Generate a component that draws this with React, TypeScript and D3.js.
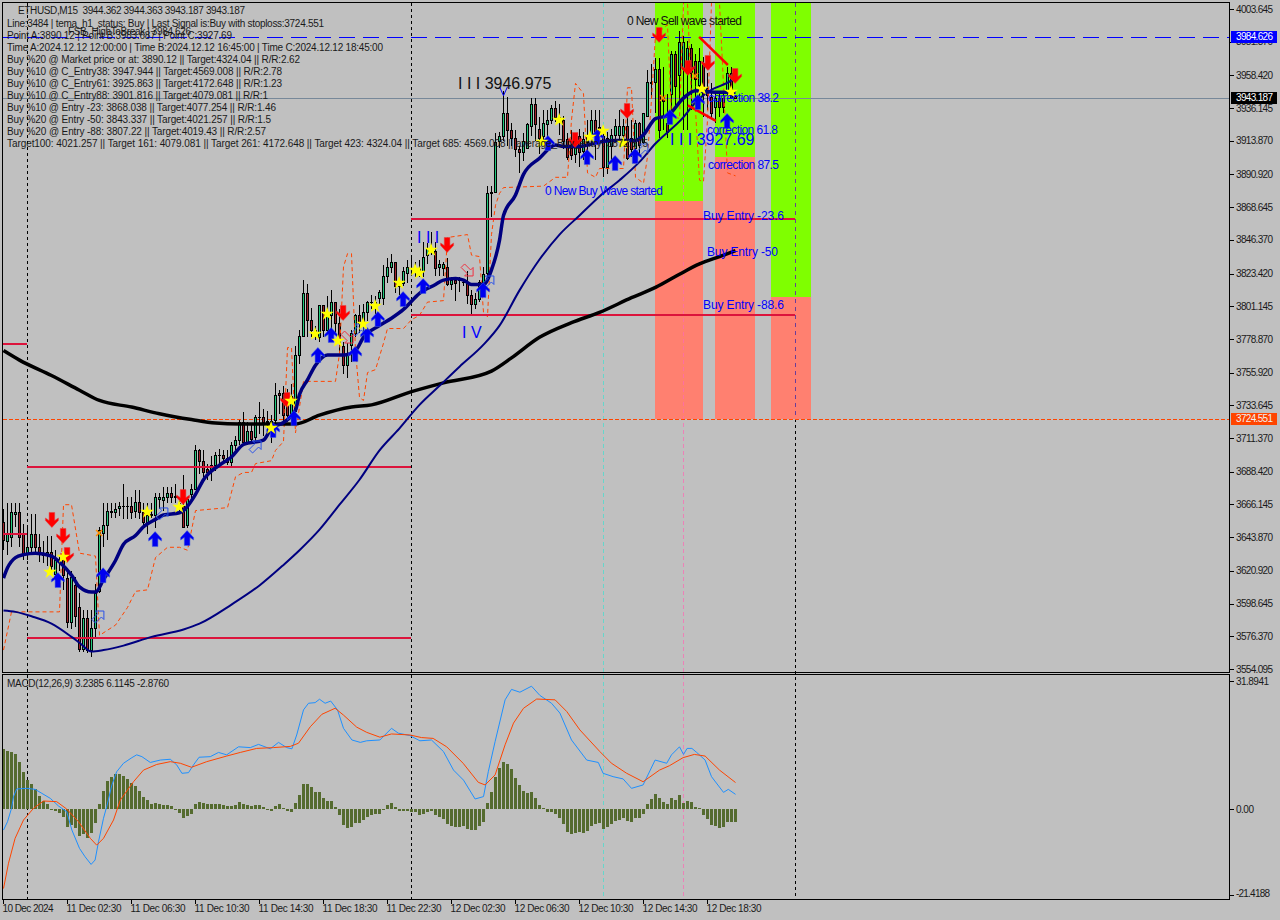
import { curveLinear, curveMonotoneX, line, scaleLinear, symbol, symbolStar } from 'd3'

const WIDTH = 1280
const HEIGHT = 920
const FONT = '"Liberation Sans", Arial, sans-serif'

// chart frame
const LEFT = 2.5
const RIGHT = 1229.5
const TOP = 2.5
const MAIN_BOTTOM = 672.5
const SUB_TOP = 674.5
const SUB_BOTTOM = 899.5

const priceTicks = [4003.645, 3981.37, 3958.42, 3936.145, 3913.87, 3890.92, 3868.645, 3846.37, 3823.42, 3801.145, 3778.87, 3755.92, 3733.645, 3711.37, 3688.42, 3666.145, 3643.87, 3620.92, 3598.645, 3576.37, 3554.095]
const macdTicks = [31.8941, 0, -21.4188]
const timeLabels = ['10 Dec 2024', '11 Dec 02:30', '11 Dec 06:30', '11 Dec 10:30', '11 Dec 14:30', '11 Dec 18:30', '11 Dec 22:30', '12 Dec 02:30', '12 Dec 06:30', '12 Dec 10:30', '12 Dec 14:30', '12 Dec 18:30']

const barOpen = [
  3654, 3641, 3644, 3660, 3661, 3646, 3633, 3637, 3646, 3637,
  3633, 3632, 3634, 3619, 3628, 3630, 3616, 3586, 3611, 3596,
  3568, 3589, 3567, 3582, 3607, 3647, 3652, 3661, 3661, 3664,
  3665, 3665, 3665, 3662, 3668, 3661, 3654, 3660, 3659, 3670,
  3669, 3671, 3674, 3672, 3667, 3665, 3652, 3673, 3677, 3703,
  3696, 3690, 3689, 3693, 3700, 3700, 3698, 3695, 3707, 3710,
  3722, 3709, 3716, 3712, 3726, 3726, 3723, 3720, 3724, 3742,
  3742, 3741, 3727, 3730, 3768, 3781, 3810, 3792, 3785, 3780,
  3802, 3785, 3795, 3804, 3790, 3774, 3761, 3775, 3783, 3795,
  3791, 3797, 3804, 3804, 3807, 3807, 3822, 3828, 3831, 3815,
  3817, 3824, 3827, 3827, 3825, 3825, 3836, 3839, 3839, 3828,
  3827, 3828, 3816, 3819, 3819, 3818, 3818, 3809, 3803, 3806,
  3818, 3824, 3878, 3879, 3914, 3917, 3933, 3921, 3916, 3908,
  3906, 3909, 3924, 3939, 3922, 3917, 3925, 3928, 3936, 3930,
  3928, 3915, 3909, 3905, 3917, 3907, 3913, 3918, 3928, 3923,
  3917, 3896, 3910, 3918, 3918, 3918, 3924, 3916, 3909, 3926,
  3913, 3931, 3954, 3954, 3963, 3944, 3926, 3946, 3973, 3959,
  3963, 3960, 3977, 3968, 3952, 3967, 3950, 3944, 3937, 3943,
  3943, 3947, 3960, 3944.362,
]
const barHigh = [
  3663, 3667, 3667, 3667, 3667, 3653, 3651, 3660, 3660, 3646,
  3641, 3645, 3645, 3635, 3632, 3633, 3621, 3621, 3617, 3606,
  3594, 3594, 3594, 3612, 3651, 3667, 3667, 3667, 3667, 3668,
  3680, 3671, 3671, 3676, 3676, 3667, 3667, 3667, 3674, 3674,
  3678, 3678, 3678, 3680, 3669, 3686, 3670, 3680, 3707, 3704,
  3703, 3694, 3699, 3702, 3704, 3703, 3703, 3709, 3713, 3724,
  3729, 3722, 3720, 3727, 3736, 3731, 3730, 3727, 3749, 3744,
  3747, 3745, 3748, 3774, 3785, 3819, 3816, 3800, 3788, 3802,
  3802, 3808, 3812, 3804, 3799, 3777, 3776, 3785, 3796, 3802,
  3803, 3805, 3809, 3808, 3812, 3829, 3834, 3837, 3831, 3819,
  3828, 3833, 3834, 3831, 3833, 3845, 3844, 3852, 3845, 3833,
  3831, 3834, 3821, 3821, 3821, 3820, 3825, 3812, 3810, 3819,
  3828, 3883, 3883, 3919, 3920, 3948, 3944, 3926, 3921, 3910,
  3919, 3926, 3943, 3943, 3930, 3935, 3935, 3938, 3941, 3939,
  3931, 3919, 3921, 3918, 3922, 3920, 3928, 3935, 3935, 3935,
  3923, 3920, 3922, 3929, 3935, 3929, 3937, 3928, 3928, 3927,
  3933, 3962, 3966, 3970, 3970, 3964, 3946, 3975, 3975, 3989,
  3985, 3982, 3980, 3973, 3977, 3971, 3960, 3953, 3947, 3946,
  3946, 3964, 3964, 3944.363,
]
const barLow = [
  3635, 3632, 3637, 3651, 3637, 3628, 3628, 3632, 3633, 3627,
  3626, 3624, 3619, 3615, 3621, 3608, 3582, 3581, 3583, 3566,
  3566, 3565, 3562, 3576, 3606, 3637, 3642, 3657, 3657, 3658,
  3656, 3656, 3656, 3657, 3656, 3650, 3646, 3657, 3650, 3663,
  3662, 3667, 3667, 3667, 3661, 3650, 3650, 3669, 3676, 3687,
  3685, 3683, 3682, 3689, 3694, 3694, 3693, 3692, 3703, 3707,
  3709, 3707, 3708, 3709, 3714, 3713, 3715, 3708, 3720, 3728,
  3722, 3722, 3720, 3725, 3762, 3781, 3780, 3780, 3778, 3777,
  3780, 3783, 3785, 3783, 3769, 3755, 3752, 3763, 3780, 3783,
  3783, 3791, 3799, 3796, 3802, 3802, 3817, 3824, 3810, 3809,
  3815, 3817, 3822, 3821, 3821, 3821, 3830, 3836, 3822, 3822,
  3822, 3815, 3812, 3805, 3811, 3815, 3803, 3796, 3799, 3804,
  3817, 3821, 3862, 3878, 3909, 3914, 3910, 3910, 3903, 3892,
  3900, 3908, 3917, 3914, 3905, 3910, 3916, 3925, 3927, 3918,
  3908, 3901, 3901, 3899, 3896, 3901, 3905, 3912, 3901, 3917,
  3889, 3891, 3901, 3914, 3913, 3910, 3901, 3903, 3901, 3905,
  3912, 3930, 3943, 3933, 3916, 3921, 3916, 3933, 3935, 3939,
  3921, 3921, 3935, 3942, 3939, 3930, 3935, 3929, 3926, 3930,
  3933, 3944, 3943, 3943.187,
]
const barClose = [
  3642, 3646, 3661, 3661, 3644, 3633, 3637, 3646, 3637, 3633,
  3632, 3634, 3624, 3628, 3629, 3618, 3586, 3617, 3590, 3568,
  3589, 3567, 3582, 3606, 3649, 3652, 3662, 3662, 3663, 3665,
  3665, 3665, 3661, 3668, 3661, 3654, 3659, 3659, 3671, 3671,
  3671, 3674, 3671, 3671, 3667, 3651, 3670, 3677, 3703, 3696,
  3688, 3688, 3693, 3700, 3700, 3698, 3695, 3707, 3710, 3722,
  3709, 3716, 3711, 3726, 3726, 3722, 3722, 3723, 3741, 3741,
  3727, 3727, 3740, 3768, 3781, 3810, 3792, 3785, 3783, 3802,
  3785, 3795, 3804, 3790, 3776, 3761, 3769, 3783, 3795, 3790,
  3797, 3804, 3804, 3802, 3811, 3822, 3828, 3831, 3815, 3817,
  3825, 3828, 3827, 3825, 3827, 3835, 3841, 3838, 3827, 3830,
  3830, 3816, 3819, 3817, 3819, 3818, 3809, 3803, 3806, 3818,
  3823, 3878, 3879, 3913, 3917, 3933, 3921, 3916, 3908, 3906,
  3914, 3925, 3939, 3925, 3916, 3926, 3928, 3936, 3930, 3928,
  3914, 3903, 3904, 3911, 3906, 3915, 3917, 3928, 3917, 3919,
  3896, 3916, 3918, 3924, 3924, 3924, 3902, 3908, 3926, 3911,
  3933, 3954, 3953, 3963, 3921, 3941, 3920, 3973, 3951, 3981,
  3981, 3977, 3960, 3956, 3968, 3946, 3945, 3933, 3943, 3937,
  3937, 3960, 3944, 3943.187,
]

// moving averages, read at the bars where they bend
const fastIdx = [0, 1, 3, 5, 8, 12, 14, 17, 19, 22, 23, 25, 28, 30, 33, 35, 38, 40, 44, 45, 48, 50, 54, 57, 60, 65, 67, 70, 73, 74, 76, 78, 81, 85, 88, 90, 94, 97, 100, 104, 108, 110, 113, 115, 117, 120, 122, 124, 125, 128, 130, 134, 138, 140, 144, 149, 153, 158, 160, 163, 166, 170, 173, 178, 183]
const fastVal = [3616, 3623, 3630, 3632, 3633, 3631, 3627, 3618, 3610, 3606.5, 3606.5, 3615, 3628, 3639, 3645, 3651, 3656, 3659, 3660.5, 3662, 3673, 3683, 3693, 3698.5, 3707, 3710, 3718, 3722, 3730.5, 3741, 3751, 3761, 3768, 3768, 3771, 3780, 3788, 3793, 3799, 3810, 3816, 3819, 3820, 3819, 3816, 3816, 3826, 3846, 3863, 3877, 3891, 3902, 3911, 3910, 3910, 3913, 3914, 3914, 3918, 3929, 3931, 3943, 3948, 3947, 3947]
const slowIdx = [0, 3, 7, 12, 17, 19, 22, 25, 30, 37, 45, 49, 57, 64, 70, 74, 79, 84, 89, 94, 99, 104, 109, 114, 120, 124, 129, 134, 139, 144, 149, 154, 159, 163, 170, 173, 176, 182, 183]
const slowVal = [3594, 3593, 3590, 3585, 3576, 3572, 3566, 3567, 3570, 3576, 3581, 3585, 3598, 3611, 3625, 3635, 3649, 3666, 3683, 3703, 3718, 3734, 3747, 3760, 3775, 3788, 3812, 3833, 3850, 3863, 3876, 3887, 3899.5, 3912, 3930, 3940, 3947, 3955, 3957]
const longIdx = [0, 4, 12, 19, 24, 32, 39, 47, 53, 59, 73, 79, 87, 92, 102, 110, 122, 127, 134, 142, 149, 157, 163, 169, 174, 179, 183]
const longVal = [3771, 3764.5, 3754, 3744, 3737, 3732.5, 3728, 3724, 3721.6, 3721, 3721, 3727, 3732.5, 3734, 3743, 3749, 3757, 3766, 3780, 3790, 3797, 3807, 3814, 3823, 3830, 3835, 3839]

// dashed stair line
const stopIdx = [0, 2, 14, 15, 17, 19, 23, 24, 28, 31, 33, 36, 38, 41, 44, 46, 48, 56, 58, 60, 62, 63, 67, 68, 70, 71, 72, 73, 75, 83, 84, 85, 86, 87, 88, 89, 90, 91, 93, 95, 96, 100, 102, 104, 106, 110, 111, 116, 117, 119, 120, 121, 122, 123, 124, 125, 135, 138, 141, 142, 143, 145, 146, 148, 149, 155, 156, 157, 158, 160, 161, 162, 163, 166, 167, 169, 170, 171, 172, 173, 174, 175, 176, 177, 179, 180, 181, 183]
const stopVal = [3567, 3593, 3593, 3666, 3666, 3633, 3631, 3577, 3584, 3596, 3607, 3608, 3630, 3637, 3637, 3635, 3662, 3664, 3685, 3688, 3688, 3694, 3696, 3703, 3709, 3773, 3773, 3715, 3750, 3750, 3769, 3828, 3837, 3837, 3771, 3739, 3737, 3756, 3758, 3776, 3786, 3786, 3792, 3795, 3804, 3805, 3848, 3850, 3836, 3835, 3797, 3794, 3850, 3870, 3878, 3882, 3883, 3889, 3889, 3928, 3953, 3946, 3892, 3889, 3895, 3895, 3950, 3950, 3889, 3885, 3903, 3942, 3986, 3993, 3931, 3929, 4008, 4008, 3942, 3935, 3887, 3886, 3928, 4008, 4008, 3952, 3892, 3890]

// horizontal levels [from bar, to bar, price]
const crimsonFrom = [-0.25, -0.25, 5.875, 5.875, 101.875, 101.875]
const crimsonTo = [5.875, 5.875, 101.875, 101.875, 197.875, 197.875]
const crimsonVal = [3775.5, 3646, 3691.7, 3575.2, 3860.6, 3795.2]

const stopLossPrice = 3724.551
const breakPrice = 3984.626
const lastPrice = 3943.187

// target zones
const zoneFrom = [162.875, 177.875, 191.875]
const zoneTo = [174.875, 187.875, 201.875]
const zoneSplit = [3872.9, 3902.9, 3807.5]

const upIdx = [13.6, 24.9, 37.9, 45.9, 67.4, 72.6, 78.6, 81.9, 87.9, 90.9, 93.6, 99.9, 104.9, 119.9, 136.1, 145.9, 148.4, 152.9, 157.9, 166.6, 173.6, 180.9]
const upVal = [3614.7, 3618, 3642.6, 3643.3, 3716.9, 3725, 3768, 3781.6, 3768.6, 3781.6, 3792.5, 3806.1, 3815, 3812.2, 3912.4, 3902.8, 3916.5, 3898.8, 3903.5, 3930.1, 3940.3, 3927.4]
const downIdx = [12.1, 14.9, 15.9, 44.9, 70.9, 84.9, 110.9, 142.9, 155.9, 163.9, 171.1, 176.1, 182.9]
const downVal = [3655.6, 3644.7, 3631.7, 3671.2, 3737.3, 3796.6, 3842.9, 3914.4, 3934.2, 3986, 3963.5, 3966.9, 3958]
const starIdx = [11.6, 14.9, 35.9, 43.9, 66.9, 71.9, 77.9, 80.9, 83.6, 89.9, 92.9, 98.9, 102.9, 103.9, 106.9, 134.6, 138.9, 146.6, 149.9, 154.9, 174.6, 181.9]
const starVal = [3620.1, 3630.4, 3661, 3664.4, 3718.2, 3736.6, 3782.3, 3795.9, 3777.5, 3789.1, 3801.3, 3817, 3825.9, 3823.8, 3839.5, 3913.1, 3928, 3916.5, 3920.6, 3912.4, 3949.2, 3947.1]
const crossIdx = [23.9, 164.9, 172.9]
const crossVal = [3646.7, 3943, 3958]
const hollowUpIdx = [23.6, 39.6, 62.9, 88.6, 121.1, 159.6]
const hollowUpVal = [3589.5, 3659.7, 3705.3, 3785, 3817.7, 3907.6]
const hollowDownIdx = [85.9, 115.9]
const hollowDownVal = [3780.2, 3825.9]

// wave triangle
const triangleUpper = [[173.9, 3984.6], [181.1, 3965.5]]
const triangleLower = [[171.1, 3938], [178.1, 3927.4]]

// MACD histogram, one value per bar
const macdHist = [
  15, 14.5, 14.1, 13.8, 11.8, 9.1, 7.2, 6.2, 5, 3.3,
  2, 1.25, -0.25, -0.5, -1, -1.9, -4.5, -4, -4.65, -6.7,
  -6.3, -7.1, -6, -3.4, 1.25, 4.5, 7, 8.1, 8.7, 8.7,
  8.2, 7.5, 6.6, 5.7, 4.5, 3, 2.3, 1.25, 1.4, 1.25,
  1, 1, 0.8, -0.25, -1, -2.25, -1.7, -1.2, 1.25, 1.75,
  1.5, 1.25, 1.25, 1.25, 1.25, 1, 0.7, 0.8, 1, 1.75,
  1.25, 1, 0.7, 1, 1, 0.5, -0.3, -0.5, 0.75, 1.25,
  0.25, -0.5, -0.7, 1.5, 3.5, 6.2, 6.2, 5.5, 4.2, 4.2,
  2.75, 2, 2, 0.5, -1.5, -4, -4.65, -4.5, -3.5, -3.5,
  -2.7, -2, -1.5, -1.3, -1.2, -0.2, 1, 1.5, 0.5, -0.5,
  -0.5, -0.5, -0.75, -0.75, -1.5, -1.25, -0.75, -0.5, -1.5, -2,
  -2.5, -3.75, -4.25, -4.5, -4.5, -4.25, -5, -5.3, -5.2, -4.25,
  -3.25, 1.5, 4.25, 8, 10.3, 11.7, 11.2, 10, 7.7, 6,
  4.5, 4, 4.25, 2.75, 1, 0.25, -0.75, -0.75, -1.25, -2.25,
  -3.75, -5.75, -6.25, -6, -5.75, -6, -5.5, -4.25, -3.75, -3.5,
  -5, -4.5, -3.75, -3, -2.75, -2.25, -3, -3.25, -2.25, -2.25,
  -1.25, 1.25, 2.5, 3.75, 2.75, 1.75, 1.25, 2.75, 2.25, 3.5,
  1.5, 2, 1.75, 0.5, 0.25, -1.5, -2.5, -4, -4.25, -4.75,
  -4.5, -3.25, -3.25, -3.25,
]
const macdIdx = [0, 1, 2, 2.5, 3.3, 5.8, 7.9, 9.6, 11.7, 13.75, 15.8, 17.1, 19, 20.4, 21.9, 22.9, 23.75, 25, 25.8, 27.1, 28.3, 30, 32.1, 33.3, 34.6, 36.7, 39.2, 41.7, 43.3, 44.6, 46.25, 47.5, 48.9, 51.7, 53.75, 55.8, 58.75, 61.7, 63.75, 66.7, 68.75, 70.8, 72.1, 73.3, 75, 76.25, 77.9, 79, 80.4, 81.8, 83.5, 85, 87.1, 89.2, 90.8, 94.1, 97, 98.7, 101.6, 104.1, 107, 110, 112.5, 115, 117.9, 120, 121.2, 122.9, 125.4, 127, 129.1, 132, 134.1, 137, 139.1, 142, 145.8, 148.7, 149.9, 152.4, 154.9, 157, 159.9, 162.9, 165.8, 167, 169, 170, 170.9, 172.1, 173.3, 175.4, 177, 180, 181.2, 183]
const macdVal = [-5.24, -3.16, 0.17, 3.08, 5, 5.15, 4.9, 3.9, 2.66, 0.75, -0.67, -5.24, -9.8, -11.9, -13.8, -12.7, -8.15, -2.3, 0.58, 6, 9.3, 11.4, 12.8, 13.5, 13.05, 11.6, 12.2, 12.4, 11, 8.9, 9.06, 11, 12.9, 13.05, 14.1, 13.5, 15.5, 15.3, 16.1, 15, 16.6, 15.3, 15, 18.45, 24.7, 26.35, 26.5, 27.35, 26.35, 26.9, 24.7, 20.1, 17.2, 16.6, 17, 17.2, 20.1, 18.9, 18.3, 17, 17.2, 14.3, 9.7, 7.2, 2.5, 3.1, 9.3, 16.8, 27.2, 29.8, 29.1, 30.6, 28.3, 26.35, 23.9, 17.2, 12.2, 11.6, 8.9, 8.06, 7.5, 5.15, 6, 12.2, 11.4, 13.5, 15.5, 13.6, 15.1, 15.1, 14.1, 12.2, 8.06, 4.15, 4.9, 3.66]
const signalIdx = [0, 1.25, 2.9, 5, 7.5, 10, 13.3, 15.8, 18.75, 21.7, 23.3, 25, 27.5, 29.2, 32.5, 35, 38.3, 41.7, 44.2, 47, 50.8, 55.8, 59.2, 63.3, 67.5, 71.7, 73.75, 76.7, 79.6, 82.9, 85, 88.3, 90.8, 94.1, 97, 101.6, 104.5, 107.4, 110.8, 114.9, 118.7, 120.4, 122.9, 125.4, 127.5, 130, 133.3, 137.9, 140.8, 144.1, 149.1, 152, 155.8, 159.9, 164, 166.5, 169.9, 172.7, 175.4, 179, 183]
const signalVal = [-19.8, -13.5, -7.3, -2.74, 0.17, 2, 1.83, 0, -3.16, -7.3, -9, -7.3, -2.74, 2.24, 6.8, 9.7, 11.1, 11.8, 11.4, 10.4, 11.8, 13.2, 14.1, 15.1, 15.3, 15.6, 16.4, 20.5, 23.6, 25.1, 23.4, 20.4, 19.1, 17.9, 18.7, 18.45, 17.8, 17.6, 15.5, 11.4, 6.65, 6, 8.5, 16, 21.4, 25.1, 27.4, 27.2, 24.3, 19.7, 14.3, 11.4, 8.9, 6.8, 9.7, 10.8, 12.8, 13.6, 13.2, 9.7, 6.6]

const infoLines = [
  'Line:3484 | tema_h1_status: Buy | Last Signal is:Buy with stoploss:3724.551',
  'Point A:3890.12 | Point B:3983.687 | Point C:3927.69',
  'Time A:2024.12.12 12:00:00 | Time B:2024.12.12 16:45:00 | Time C:2024.12.12 18:45:00',
  'Buy %20 @ Market price or at: 3890.12 || Target:4324.04 || R/R:2.62',
  'Buy %10 @ C_Entry38: 3947.944 || Target:4569.008 || R/R:2.78',
  'Buy %10 @ C_Entry61: 3925.863 || Target:4172.648 || R/R:1.23',
  'Buy %10 @ C_Entry88: 3901.816 || Target:4079.081 || R/R:1',
  'Buy %10 @ Entry -23: 3868.038 || Target:4077.254 || R/R:1.46',
  'Buy %20 @ Entry -50: 3843.337 || Target:4021.257 || R/R:1.5',
  'Buy %20 @ Entry -88: 3807.22 || Target:4019.43 || R/R:2.57',
  'Target100: 4021.257 || Target 161: 4079.081 || Target 261: 4172.648 || Target 423: 4324.04 || Target 685: 4569.008 || average_Buy_entry: 3872.875',
]
// rendered widths of the info rows, the reference font is narrower than ours
const infoWidths = [317, 225, 376, 293, 275, 275, 261, 269, 264, 259, 641]

const x = scaleLinear().domain([0, 1]).range([3.5, 7.5])
const y = scaleLinear().domain([4003.645, 3554.095]).range([9, 669])
const yMacd = scaleLinear().domain([31.8941, -21.4188]).range([681, 895])

const px = (v: number) => Math.round(v) + 0.5

function pairs(idx: number[], val: number[]) {
  return idx.map((d, i) => [d, val[i]] as [number, number])
}
const priceLine = line<[number, number]>().x((d) => x(d[0])).y((d) => y(d[1])).curve(curveLinear)
const avgLine = line<[number, number]>().x((d) => x(d[0])).y((d) => y(d[1])).curve(curveMonotoneX)
const macdLine = line<[number, number]>().x((d) => x(d[0])).y((d) => yMacd(d[1])).curve(curveLinear)

const starPath = symbol(symbolStar, 58)() ?? ''
// block arrow pointing up, centred on 0,0
const ARROW = 'M0,-7.5 L6.5,-0.5 L6.5,2 L2.8,-0.5 L2.8,7.5 L-2.8,7.5 L-2.8,-0.5 L-6.5,2 L-6.5,-0.5 Z'
const HOLLOW = 'M6,-6 L6,2.5 L3.5,0 L-2.5,6 L-6,2.5 L0,-3.5 L-2.5,-6 Z'

function Candle({ i }: { i: number }) {
  const cx = x(i)
  const top = px(y(Math.max(barOpen[i], barClose[i])))
  const bottom = px(y(Math.min(barOpen[i], barClose[i])))
  const up = barClose[i] >= barOpen[i]
  return (
    <g shapeRendering="crispEdges">
      <line x1={cx} x2={cx} y1={y(barHigh[i])} y2={y(barLow[i])} stroke="#000" />
      {top === bottom ? (
        <line x1={cx - 1.5} x2={cx + 1.5} y1={top} y2={top} stroke="#000" />
      ) : (
        <rect x={cx - 1} y={top} width={2} height={bottom - top} fill={up ? '#22c97c' : '#a02028'} stroke="#000" />
      )}
    </g>
  )
}

function PriceTag({ value, fill, color }: { value: number; fill: string; color: string }) {
  const cy = y(value)
  return (
    <g>
      <rect x={1231} y={Math.round(cy) - 6} width={46} height={12} fill={fill} />
      <text x={1236} y={cy + 3.5} fontSize={10} textLength={37} lengthAdjust="spacing" fill={color}>{value.toFixed(3)}</text>
    </g>
  )
}

export default function App() {
  const bars = barClose.map((_, i) => i)
  const lastSessionX = px(x(197.875))
  return (
    <svg
      width={WIDTH}
      height={HEIGHT}
      viewBox={`0 0 ${WIDTH} ${HEIGHT}`}
      style={{ position: 'fixed', left: 0, top: 0, background: '#c0c0c0' }}
      fontFamily={FONT}
    >
      <defs>
        <clipPath id="main">
          <rect x={LEFT} y={TOP} width={RIGHT - LEFT} height={MAIN_BOTTOM - TOP} />
        </clipPath>
      </defs>

      {/* target zones */}
      <g shapeRendering="crispEdges">
        {zoneFrom.map((from, i) => (
          <g key={i}>
            <rect x={x(from)} y={TOP} width={x(zoneTo[i]) - x(from)} height={y(zoneSplit[i]) - TOP} fill="#7fff00" />
            <rect x={x(from)} y={y(zoneSplit[i])} width={x(zoneTo[i]) - x(from)} height={y(stopLossPrice) - y(zoneSplit[i])} fill="#ff8070" />
          </g>
        ))}
      </g>

      {/* session and object verticals */}
      <g shapeRendering="crispEdges">
        {[5.875, 101.875].map((d) => (
          <line key={d} x1={px(x(d))} x2={px(x(d))} y1={TOP} y2={SUB_BOTTOM} stroke="#000" strokeDasharray="3 3" />
        ))}
        <line x1={lastSessionX} x2={lastSessionX} y1={TOP} y2={y(stopLossPrice)} stroke="#6a3d9a" strokeDasharray="4 4" />
        <line x1={lastSessionX} x2={lastSessionX} y1={y(stopLossPrice)} y2={SUB_BOTTOM} stroke="#000" strokeDasharray="3 3" />
        <line x1={603.5} x2={603.5} y1={TOP} y2={SUB_BOTTOM} stroke="#40e0d0" strokeDasharray="4 3" opacity={0.7} />
        <line x1={683.5} x2={683.5} y1={TOP} y2={SUB_BOTTOM} stroke="#ff69b4" strokeDasharray="4 3" opacity={0.7} />
      </g>

      {/* price levels */}
      <g shapeRendering="crispEdges">
        <line x1={LEFT} x2={RIGHT} y1={px(y(lastPrice))} y2={px(y(lastPrice))} stroke="#778899" />
        <line x1={LEFT} x2={RIGHT} y1={px(y(breakPrice))} y2={px(y(breakPrice))} stroke="#0000ff" strokeDasharray="16 8" />
        <line x1={LEFT} x2={RIGHT} y1={px(y(stopLossPrice))} y2={px(y(stopLossPrice))} stroke="#ff4500" strokeDasharray="4 2" />
      </g>

      <g clipPath="url(#main)">
        {bars.map((i) => (
          <Candle key={i} i={i} />
        ))}

        <path d={priceLine(pairs(stopIdx, stopVal)) ?? undefined} fill="none" stroke="#ff4500" strokeDasharray="4 3" />

        {crimsonVal.map((v, i) => (
          <line key={i} x1={x(crimsonFrom[i])} x2={x(crimsonTo[i])} y1={y(v)} y2={y(v)} stroke="#dc143c" strokeWidth={2} shapeRendering="crispEdges" />
        ))}

        <path d={avgLine(pairs(longIdx, longVal)) ?? undefined} fill="none" stroke="#000" strokeWidth={3.5} strokeLinejoin="round" />
        <path d={avgLine(pairs(slowIdx, slowVal)) ?? undefined} fill="none" stroke="#000080" strokeWidth={2} strokeLinejoin="round" />
        <path d={avgLine(pairs(fastIdx, fastVal)) ?? undefined} fill="none" stroke="#000080" strokeWidth={3.5} strokeLinejoin="round" />

        {[triangleUpper, triangleLower].map((seg, i) => (
          <path key={i} d={priceLine(seg as [number, number][]) ?? undefined} stroke="#ff0000" strokeWidth={2.5} fill="none" />
        ))}

        {/* peak marker over the swing high */}
        <path
          d={`M${x(125) - 4},${y(3948) - 4} L${x(125)},${y(3948) + 5} L${x(125) + 4},${y(3948) - 4}`}
          fill="none"
          stroke="#0000ff"
        />

        {hollowUpIdx.map((d, i) => (
          <path key={i} d={HOLLOW} transform={`translate(${x(d)},${y(hollowUpVal[i])})`} fill="none" stroke="#2a52e8" />
        ))}
        {hollowDownIdx.map((d, i) => (
          <path key={i} d={HOLLOW} transform={`translate(${x(d)},${y(hollowDownVal[i])}) scale(1,-1)`} fill="none" stroke="#f03040" />
        ))}
        {upIdx.map((d, i) => (
          <path key={i} d={ARROW} transform={`translate(${x(d)},${y(upVal[i])})`} fill="#0000f0" stroke="#4060e0" strokeWidth={0.5} />
        ))}
        {downIdx.map((d, i) => (
          <path key={i} d={ARROW} transform={`translate(${x(d)},${y(downVal[i])}) scale(1,-1)`} fill="#ff0000" stroke="#e04040" strokeWidth={0.5} />
        ))}
        {starIdx.map((d, i) => (
          <path key={i} d={starPath} transform={`translate(${x(d)},${y(starVal[i])})`} fill="#ffff00" />
        ))}
        {crossIdx.map((d, i) => (
          <g key={i} transform={`translate(${x(d)},${y(crossVal[i])})`} stroke="#ff8c00" strokeWidth={1.5}>
            <line x1={-3} x2={3} y1={-3} y2={3} />
            <line x1={-3} x2={3} y1={3} y2={-3} />
          </g>
        ))}
      </g>

      {/* MACD */}
      <g shapeRendering="crispEdges">
        {macdHist.map((v, i) => (
          <rect
            key={i}
            x={x(i) - 1.5}
            y={Math.min(yMacd(v), yMacd(0))}
            width={3}
            height={Math.max(1, Math.abs(yMacd(v) - yMacd(0)))}
            fill="#556b2f"
          />
        ))}
      </g>
      <path d={macdLine(pairs(macdIdx, macdVal)) ?? undefined} fill="none" stroke="#1e90ff" />
      <path d={macdLine(pairs(signalIdx, signalVal)) ?? undefined} fill="none" stroke="#ff4500" />

      {/* chart objects text */}
      <g fontSize={12} fill="#0000ff" lengthAdjust="spacing">
        <text x={627} y={25} fill="#111" textLength={115}>0 New Sell wave started</text>
        <text x={545} y={195} textLength={118}>0 New Buy Wave started</text>
        <text x={708} y={102} textLength={71}>correction 38.2</text>
        <text x={707} y={134} textLength={71}>correction 61.8</text>
        <text x={708} y={169} textLength={71}>correction 87.5</text>
        <text x={703} y={220} textLength={81}>Buy Entry -23.6</text>
        <text x={707} y={256} textLength={71}>Buy Entry -50</text>
        <text x={703} y={309} textLength={81}>Buy Entry -88.6</text>
        <text x={670} y={145} fontSize={16}>I I I 3927.69</text>
        <text x={417} y={243} fontSize={16}>I I I</text>
        <text x={462} y={338} fontSize={16}>I V</text>
      </g>
      <text x={458} y={89} fontSize={16} fill="#111">I I I 3946.975</text>

      {/* info block */}
      <g fontSize={10} fill="#1a1a1a">
        <text x={18} y={14} textLength={227}>{'ETHUSD,M15\u00a0\u00a03944.362 3944.363 3943.187 3943.187'}</text>
        {infoLines.map((t, i) => (
          <text key={i} x={7} y={27 + i * 12} textLength={infoWidths[i]}>{t}</text>
        ))}
        <text x={68} y={35} textLength={123}>FSB_HighToBreak | 3984.626</text>
        <text x={7} y={687} textLength={162}>MACD(12,26,9) 3.2385 6.1145 -2.8760</text>
      </g>

      {/* frames */}
      <g fill="none" stroke="#000" shapeRendering="crispEdges">
        <rect x={LEFT} y={TOP} width={RIGHT - LEFT} height={MAIN_BOTTOM - TOP} />
        <rect x={LEFT} y={SUB_TOP} width={RIGHT - LEFT} height={SUB_BOTTOM - SUB_TOP} />
      </g>

      {/* right axis */}
      <g fontSize={10} fill="#1a1a1a">
        {priceTicks.map((t) => (
          <g key={t}>
            <line x1={RIGHT} x2={RIGHT + 4} y1={px(y(t))} y2={px(y(t))} stroke="#000" shapeRendering="crispEdges" />
            <text x={1236} y={y(t) + 3.5} textLength={37}>{t.toFixed(3)}</text>
          </g>
        ))}
        {macdTicks.map((t) => (
          <g key={t}>
            <line x1={RIGHT} x2={RIGHT + 4} y1={px(yMacd(t))} y2={px(yMacd(t))} stroke="#000" shapeRendering="crispEdges" />
            <text x={1236} y={yMacd(t) + (t < 0 ? 2 : 3.5)} textLength={t === 0 ? 18 : t < 0 ? 34 : 33}>{t === 0 ? '0.00' : t.toFixed(4)}</text>
          </g>
        ))}
      </g>
      <PriceTag value={breakPrice} fill="#0000ff" color="#fff" />
      <PriceTag value={lastPrice} fill="#000" color="#fff" />
      <PriceTag value={stopLossPrice} fill="#ff4500" color="#f0f0f0" />

      {/* time axis */}
      <g fontSize={10} fill="#1a1a1a">
        {timeLabels.map((label, k) => (
          <g key={label}>
            <line x1={x(k * 16)} x2={x(k * 16)} y1={SUB_BOTTOM} y2={SUB_BOTTOM + 4} stroke="#000" shapeRendering="crispEdges" />
            <text x={x(k * 16) - 1} y={912} textLength={k === 0 ? 51 : 55}>{label}</text>
          </g>
        ))}
      </g>
    </svg>
  )
}
